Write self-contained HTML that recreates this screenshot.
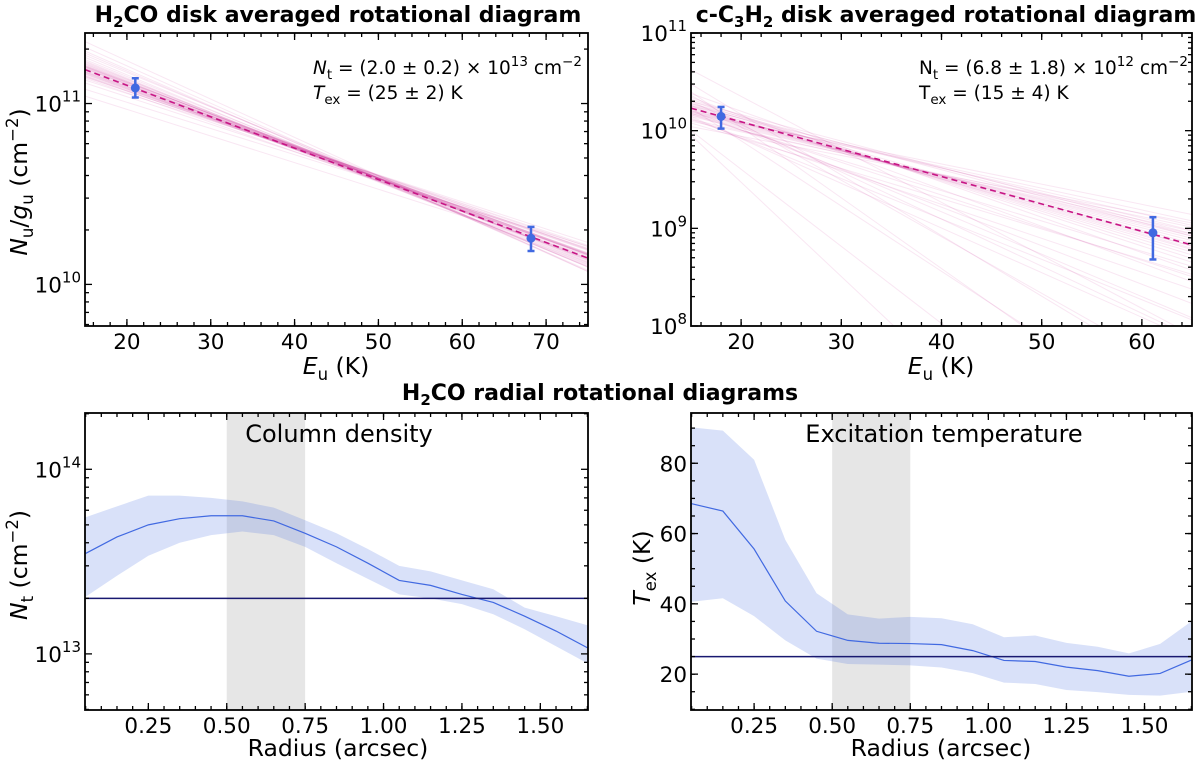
<!DOCTYPE html>
<html><head><meta charset="utf-8"><style>
html,body{margin:0;padding:0;background:#fff;}
svg{display:block;font-family:"DejaVu Sans","Liberation Sans",sans-serif;}
</style></head><body>
<svg id="fig" width="1200" height="761" viewBox="0 0 1200 761" xmlns="http://www.w3.org/2000/svg"></svg>
<script>
// ---------- data ----------
const h2coE = [21.0, 68.2];
const h2coN = [1.22e11, 1.8e10];
const h2coErrLo = [1.08e11, 1.53e10];
const h2coErrHi = [1.38e11, 2.08e10];
const h2coFitT = 25;
const h2coFitAt15 = 1.54e11;
const h2coSampT = [25,24,26,23,27,25.5,24.5,22.5,28,26.5,23.5,25,24,27.5,22,29,25,26,24,23,25.5,26,24.5,27,23.8,21,30,20.5,28.5,22.8,26.8,24.2,25.8,23.2,27.2,21.5,29.5,24.8,25.2,26.2];
const h2coSampAt15 = [1.57,1.6,1.5,1.7,1.45,1.55,1.62,1.8,1.4,1.5,1.65,1.52,1.66,1.43,1.9,1.35,1.6,1.48,1.58,1.72,1.53,1.46,1.61,1.42,1.68,2.05,1.2,2.2,1.3,1.85,1.38,1.63,1.49,1.75,1.41,1.95,1.1,1.56,1.59,1.47];

const c3h2E = [18.0, 61.1];
const c3h2N = [1.4e10, 9.0e8];
const c3h2ErrLo = [1.05e10, 4.8e8];
const c3h2ErrHi = [1.75e10, 1.3e9];
const c3h2FitT = 15.5;
const c3h2FitAt15 = 1.7e10;
const c3h2SampT = [15,14,16,17,13,18,15.5,14.5,16.5,19,12,20,13.5,15,17.5,8,7,6,9,10,5.5,11,22,16,14,13,12.5,16,18.5,21,6.5,7.5,4.5,9.5,14,15,17,19.5,11.5,10.5];
const c3h2SampAt15 = [1.7,1.9,1.6,1.5,2.1,1.4,1.65,1.8,1.55,1.3,2.4,1.25,2.0,1.75,1.45,4.2,3.0,2.5,2.0,1.8,1.0,1.6,1.1,1.9,1.2,1.5,1.3,2.0,1.6,1.5,1.7,2.3,0.9,1.4,1.45,1.85,1.8,1.55,2.2,1.35];

const radius = [0.05,0.15,0.25,0.35,0.45,0.55,0.65,0.75,0.85,0.95,1.05,1.15,1.25,1.35,1.45,1.55,1.65];
const ntVal = [3.5e13,4.3e13,5.0e13,5.4e13,5.6e13,5.6e13,5.25e13,4.5e13,3.8e13,3.1e13,2.5e13,2.35e13,2.1e13,1.9e13,1.6e13,1.33e13,1.08e13];
const ntHi = [5.5e13,6.3e13,7.2e13,7.2e13,7.0e13,6.7e13,6.2e13,5.3e13,4.5e13,3.7e13,3.0e13,2.8e13,2.5e13,2.24e13,1.78e13,1.6e13,1.43e13];
const ntLo = [2.04e13,2.65e13,3.4e13,4.0e13,4.4e13,4.6e13,4.4e13,3.8e13,3.1e13,2.55e13,2.1e13,2.0e13,1.86e13,1.64e13,1.36e13,1.1e13,8.9e12];
const ntAvg = 2.0e13;
const texVal = [68.5,66.4,55.6,40.8,32.2,29.6,28.8,28.7,28.4,26.7,23.9,23.6,22.0,21.0,19.4,20.2,24.0];
const texHi = [90.2,89.3,81,58.2,43,37,35.8,36.3,35.9,34.2,30.5,31,28.9,27.8,25.9,28.6,35];
const texLo = [40.6,41.6,36.5,29.6,24.4,22.9,22.7,22.5,21.9,20.3,17.6,17.2,15.5,14.9,14.1,13.9,15.0];
const texAvg = 25;
const bandRange = [0.5, 0.75];

// ---------- helpers ----------
const NS = "http://www.w3.org/2000/svg";
const fig = document.getElementById('fig');
function el(tag, attrs, parent){const e=document.createElementNS(NS,tag);for(const k in attrs)e.setAttribute(k,attrs[k]);(parent||fig).appendChild(e);return e;}
function mkScale(d0,d1,r0,r1,log){
  if(log){const a=Math.log10(d0),b=Math.log10(d1);return v=>r0+(Math.log10(v)-a)/(b-a)*(r1-r0);}
  return v=>r0+(v-d0)/(d1-d0)*(r1-r0);
}
let clipId=0;
function panel(p){
  const g=el('g',{});
  
  
  const sx=mkScale(p.x0,p.x1,p.L,p.R,false);
  const sy=mkScale(p.y0,p.y1,p.B,p.T,p.ylog);
  const cid='clip'+(clipId++);
  const cp=el('clipPath',{id:cid},g); el('rect',{x:p.L,y:p.T,width:p.R-p.L,height:p.B-p.T},cp);
  const plot=el('g',{'clip-path':'url(#'+cid+')'},g);
  
  
  p.sx=sx;p.sy=sy;p.plot=plot;p.g=g;
  return p;
}
function frame(p){
  const g=p.g;
  const ax=el('g',{stroke:'#000','stroke-width':1.3},g);
  
  
  function tickX(v,len){const x=p.sx(v);if(x<p.L-0.5||x>p.R+0.5)return;el('line',{x1:x,x2:x,y1:p.B,y2:p.B-len},ax);el('line',{x1:x,x2:x,y1:p.T,y2:p.T+len},ax);}
  function tickY(v,len){const y=p.sy(v);if(y<p.T-0.5||y>p.B+0.5)return;el('line',{y1:y,y2:y,x1:p.L,x2:p.L+len},ax);el('line',{y1:y,y2:y,x1:p.R,x2:p.R-len},ax);}
  p.xMajor.forEach(v=>tickX(v,7)); p.xMinor.forEach(v=>tickX(v,4));
  p.yMajor.forEach(v=>tickY(v,7)); p.yMinor.forEach(v=>tickY(v,4));
  el('rect',{x:p.L,y:p.T,width:p.R-p.L,height:p.B-p.T,fill:'none',stroke:'#000','stroke-width':1.8},g);
  p.xMajor.forEach((v,i)=>{const t=el('text',{x:p.sx(v),y:p.B+23,'text-anchor':'middle','font-size':21.5},g);t.textContent=p.xLabels[i];
    });
  p.yMajor.forEach((v,i)=>{const y=p.sy(v);const t=el('text',{x:p.L-4,y:y+8,'text-anchor':'end','font-size':21.5},g);
    
    if(p.ylog){t.textContent='10';const s=el('tspan',{dy:-10,'font-size':15},t);s.textContent=p.yLabels[i];}else t.textContent=p.yLabels[i];});
}
function logMinors(a,b){const r=[];for(let e=a;e<=b;e++)for(let m=2;m<=9;m++)r.push(m*Math.pow(10,e));return r;}
function range(a,b,s){const r=[];for(let v=a;v<=b+1e-9;v+=s)r.push(Math.round(v*1000)/1000);return r;}
function pathFrom(xs,ys,p){return xs.map((x,i)=>(i?'L':'M')+p.sx(x).toFixed(2)+','+p.sy(ys[i]).toFixed(2)).join('');}

function rotPanel(p,E,N,lo,hi,T,at15,sT,sA,sUnit){
  sT.forEach((t,i)=>{const a=sA[i]*sUnit;const x0=p.x0,x1=p.x1;
    const l=el('line',{x1:p.sx(x0),y1:p.sy(a),x2:p.sx(x1),y2:p.sy(a*Math.exp(-(x1-15)/t)),stroke:'#c71585','stroke-opacity':0.1,'stroke-width':1},p.plot);
    });
  const d=el('line',{x1:p.sx(p.x0),y1:p.sy(at15),x2:p.sx(p.x1),y2:p.sy(at15*Math.exp(-(p.x1-15)/T)),stroke:'#c71585','stroke-width':1.6,'stroke-dasharray':'6,4'},p.plot);
  
  E.forEach((e,i)=>{const x=p.sx(e);const g=el('g',{stroke:'#4169e1','stroke-width':2.5,fill:'#4169e1'},p.plot);
    
    el('line',{x1:x,x2:x,y1:p.sy(lo[i]),y2:p.sy(hi[i])},g);
    el('line',{x1:x-3.5,x2:x+3.5,y1:p.sy(lo[i]),y2:p.sy(lo[i])},g);
    el('line',{x1:x-3.5,x2:x+3.5,y1:p.sy(hi[i]),y2:p.sy(hi[i])},g);
    el('circle',{cx:x,cy:p.sy(N[i]),r:4.5,stroke:'none'},g);});
}
function radPanel(p,val,hi,lo,avg){
  const bx=el('rect',{x:p.sx(bandRange[0]),y:p.T,width:p.sx(bandRange[1])-p.sx(bandRange[0]),height:p.B-p.T,fill:'#808080','fill-opacity':0.2},p.plot);
  
  const up=pathFrom(radius,hi,p);const dn=radius.slice().reverse().map((x,i)=>'L'+p.sx(x).toFixed(2)+','+p.sy(lo.slice().reverse()[i]).toFixed(2)).join('');
  const f=el('path',{d:up+dn+'Z',fill:'#4169e1','fill-opacity':0.2},p.plot);
  
  const ln=el('path',{d:pathFrom(radius,val,p),fill:'none',stroke:'#4169e1','stroke-width':1.2},p.plot);
  
  const h=el('line',{x1:p.L,x2:p.R,y1:p.sy(avg),y2:p.sy(avg),stroke:'#191970','stroke-width':1.5},p.plot);
  
}
function txt(x,y,s,attrs,name){const t=el('text',Object.assign({x:x,y:y},attrs));t.innerHTML=s;return t;}

// ---------- panels ----------
const p1=panel({name:'h2co-disk-panel',L:85,R:588,T:33,B:326,x0:15,x1:75,y0:Math.pow(10,9.77),y1:Math.pow(10,11.39),ylog:true,
  xMajor:[20,30,40,50,60,70],xLabels:['20','30','40','50','60','70'],xMinor:range(16,74,2),
  yMajor:[1e10,1e11],yLabels:['10','11'],yMinor:logMinors(9,11)});
rotPanel(p1,h2coE,h2coN,h2coErrLo,h2coErrHi,h2coFitT,h2coFitAt15,h2coSampT,h2coSampAt15,1e11);
frame(p1);

const p2=panel({name:'c3h2-disk-panel',L:691,R:1192,T:33,B:326,x0:15,x1:65,y0:1e8,y1:1e11,ylog:true,
  xMajor:[20,30,40,50,60],xLabels:['20','30','40','50','60'],xMinor:range(16,64,2),
  yMajor:[1e8,1e9,1e10,1e11],yLabels:['8','9','10','11'],yMinor:logMinors(8,10)});
rotPanel(p2,c3h2E,c3h2N,c3h2ErrLo,c3h2ErrHi,c3h2FitT,c3h2FitAt15,c3h2SampT,c3h2SampAt15,1e10);
frame(p2);

const p3=panel({name:'column-density-panel',L:85,R:588,T:413,B:710,x0:0.048,x1:1.652,y0:Math.pow(10,12.696),y1:Math.pow(10,14.305),ylog:true,
  xMajor:[0.25,0.5,0.75,1.0,1.25,1.5],xLabels:['0.25','0.50','0.75','1.00','1.25','1.50'],xMinor:range(0.05,1.65,0.05),
  yMajor:[1e13,1e14],yLabels:['13','14'],yMinor:logMinors(12,14)});
radPanel(p3,ntVal,ntHi,ntLo,ntAvg);
frame(p3);

const p4=panel({name:'excitation-temperature-panel',L:691,R:1192,T:413,B:710,x0:0.048,x1:1.652,y0:9.8,y1:94.3,ylog:false,
  xMajor:[0.25,0.5,0.75,1.0,1.25,1.5],xLabels:['0.25','0.50','0.75','1.00','1.25','1.50'],xMinor:range(0.05,1.65,0.05),
  yMajor:[20,40,60,80],yLabels:['20','40','60','80'],yMinor:range(10,90,5)});
radPanel(p4,texVal,texHi,texLo,texAvg);
frame(p4);

// ---------- text ----------
const B={'font-weight':'bold','font-size':22,'text-anchor':'middle'};
txt(338,22,'H<tspan dy="5" font-size="15">2</tspan><tspan dy="-5">CO disk averaged rotational diagram</tspan>',B,'title-h2co-disk');
txt(946,22,'c-C<tspan dy="5" font-size="15">3</tspan><tspan dy="-5">H</tspan><tspan dy="5" font-size="15">2</tspan><tspan dy="-5"> disk averaged rotational diagram</tspan>',B,'title-c3h2-disk');
txt(600,400,'H<tspan dy="5" font-size="15">2</tspan><tspan dy="-5">CO radial rotational diagrams</tspan>',B,'title-radial');

const A={'font-size':18.5};
txt(313,74,'<tspan font-style="italic">N</tspan><tspan dy="5" font-size="13.5">t</tspan><tspan dy="-5"> = (2.0 ± 0.2) × 10</tspan><tspan dy="-8" font-size="13.5">13</tspan><tspan dy="8"> cm</tspan><tspan dy="-8" font-size="13.5">−2</tspan>',A,'h2co-nt-annotation');
txt(313,99,'<tspan font-style="italic">T</tspan><tspan dy="5" font-size="13.5">ex</tspan><tspan dy="-5"> = (25 ± 2) K</tspan>',A,'h2co-tex-annotation');
txt(919,74,'N<tspan dy="5" font-size="13.5">t</tspan><tspan dy="-5"> = (6.8 ± 1.8) × 10</tspan><tspan dy="-8" font-size="13.5">12</tspan><tspan dy="8"> cm</tspan><tspan dy="-8" font-size="13.5">−2</tspan>',A,'c3h2-nt-annotation');
txt(919,99,'T<tspan dy="5" font-size="13.5">ex</tspan><tspan dy="-5"> = (15 ± 4) K</tspan>',A,'c3h2-tex-annotation');

txt(339,442,'Column density',{'font-size':24,'text-anchor':'middle'},'column-density-label');
txt(944,442,'Excitation temperature',{'font-size':24,'text-anchor':'middle'},'excitation-temperature-label');

const X={'font-size':23.5,'text-anchor':'middle'};
txt(336,374,'<tspan font-style="italic">E</tspan><tspan dy="6" font-size="16.5">u</tspan><tspan dy="-6"> (K)</tspan>',X,'x-axis-title-h2co');
txt(941,374,'<tspan font-style="italic">E</tspan><tspan dy="6" font-size="16.5">u</tspan><tspan dy="-6"> (K)</tspan>',X,'x-axis-title-c3h2');
txt(338,756,'Radius (arcsec)',X,'x-axis-title-radius-left');
txt(941,756,'Radius (arcsec)',X,'x-axis-title-radius-right');

const Y={'font-size':23.5,'text-anchor':'middle'};
txt(0,0,'<tspan font-style="italic">N</tspan><tspan dy="6" font-size="16.5">u</tspan><tspan dy="-6">/</tspan><tspan font-style="italic">g</tspan><tspan dy="6" font-size="16.5">u</tspan><tspan dy="-6"> (cm</tspan><tspan dy="-9" font-size="16.5">−2</tspan><tspan dy="9">)</tspan>',Object.assign({transform:'translate(27,182) rotate(-90)'},Y),'y-axis-title-h2co');
txt(0,0,'<tspan font-style="italic">N</tspan><tspan dy="6" font-size="16.5">t</tspan><tspan dy="-6"> (cm</tspan><tspan dy="-9" font-size="16.5">−2</tspan><tspan dy="9">)</tspan>',Object.assign({transform:'translate(27,565) rotate(-90)'},Y),'y-axis-title-nt');
txt(0,0,'<tspan font-style="italic">T</tspan><tspan dy="6" font-size="16.5">ex</tspan><tspan dy="-6"> (K)</tspan>',Object.assign({transform:'translate(650,568) rotate(-90)'},Y),'y-axis-title-tex');
</script>
</body></html>
